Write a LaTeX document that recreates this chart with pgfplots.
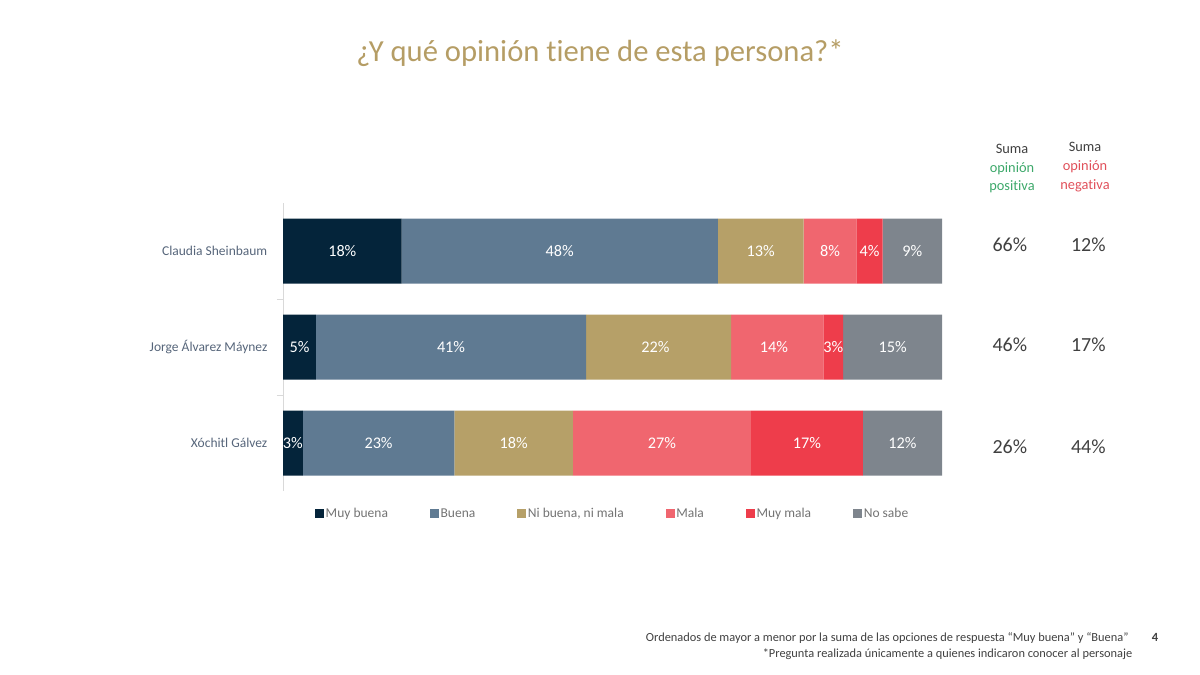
\documentclass[border=0pt]{standalone}
\usepackage{pgfplots}
\pgfplotsset{compat=1.18}
\usepackage{pgfplotstable}
\usepackage{fontspec}
\setmainfont{Carlito}[Ligatures=NoCommon]
\definecolor{cmb}{HTML}{04243A}
\definecolor{cb}{HTML}{5F7A92}
\definecolor{cnb}{HTML}{B6A068}
\definecolor{cm}{HTML}{F0666F}
\definecolor{cmm}{HTML}{EE3D4B}
\definecolor{cns}{HTML}{7E858D}
\definecolor{ctitle}{HTML}{B59D65}
\definecolor{cname}{HTML}{56657A}
\definecolor{cpos}{HTML}{3DA86A}
\definecolor{cneg}{HTML}{E0505A}
\definecolor{ctext}{HTML}{404040}

\pgfplotstableread{
y mb b nb m mm ns
0 18 48 13 8 4 9
1 5 41 22 14 3 15
2 3 23 18 27 17 12
}\datatable

% label positions (segment midpoints) and values
\pgfplotstableread{
x y lab
9 0 18
42 0 48
72.5 0 13
83 0 8
89 0 4
95.5 0 9
2.5 1 5
25.5 1 41
56.5 1 22
74.5 1 14
83.5 1 3
92.5 1 15
1.5 2 3
14.5 2 23
35 2 18
57.5 2 27
79.5 2 17
94 2 12
}\labtable

% suma opinion columns
\pgfplotstableread{
x y lab
110.3 -0.07 66
110.3 0.98 46
110.3 2.04 26
122.2 -0.07 12
122.2 0.98 17
122.2 2.04 44
}\sumtable

\begin{document}
\begin{tikzpicture}[x=1pt,y=1pt]
\path[use as bounding box] (0,0) rectangle (960,539.2);

\node[anchor=base, font=\fontsize{24.5}{29}\selectfont, text=ctitle] at (480,489.6) {¿Y qué opinión tiene de esta persona?*};

\begin{axis}[
  at={(226.4pt,146.4pt)}, anchor=south west,
  scale only axis, width=527.2pt, height=230.4pt,
  xbar stacked, bar width=52pt,
  xmin=0, xmax=100, ymin=-0.5, ymax=2.5,
  y dir=reverse,
  axis x line=none,
  axis y line*=left,
  axis line style={draw=black!15},
  ytick={0,1,2},
  yticklabels={Claudia Sheinbaum, Jorge Álvarez Máynez, Xóchitl Gálvez},
  major tick length=0pt,
  minor ytick={0.5,1.5},
  minor tick length=5pt,
  tick align=outside,
  minor tick style={draw=black!15},
  yticklabel style={font=\fontsize{10.8}{12}\selectfont, text=cname, xshift=-9pt},
  legend columns=6,
  legend style={at={(0.5,-0.045)}, anchor=north, draw=none, fill=none,
    font=\fontsize{10.8}{12}\selectfont, text=black!55,
    nodes={inner sep=1.2pt},
    /tikz/every even column/.append style={column sep=32.5pt}},
  legend image code/.code={\fill[#1] (0pt,-3.6pt) rectangle (7.2pt,3.6pt);},
]
\addplot[fill=cmb, draw=none] table[x=mb, y=y] {\datatable};
\addlegendentry{Muy buena}
\addplot[fill=cb, draw=none] table[x=b, y=y] {\datatable};
\addlegendentry{Buena}
\addplot[fill=cnb, draw=none] table[x=nb, y=y] {\datatable};
\addlegendentry{Ni buena, ni mala}
\addplot[fill=cm, draw=none] table[x=m, y=y] {\datatable};
\addlegendentry{Mala}
\addplot[fill=cmm, draw=none] table[x=mm, y=y] {\datatable};
\addlegendentry{Muy mala}
\addplot[fill=cns, draw=none] table[x=ns, y=y] {\datatable};
\addlegendentry{No sabe}
\end{axis}

\begin{axis}[
  at={(226.4pt,146.4pt)}, anchor=south west,
  scale only axis, width=527.2pt, height=230.4pt,
  xmin=0, xmax=100, ymin=-0.5, ymax=2.5,
  y dir=reverse, hide axis, clip=false,
]
\addplot[draw=none, mark=none, point meta=explicit symbolic,
  nodes near coords={\pgfplotspointmeta\%},
  nodes near coords align=center,
  every node near coord/.append style={anchor=center, text=white, font=\fontsize{13}{15}\selectfont, inner sep=0pt}]
  table[x=x, y=y, meta=lab] {\labtable};
\addplot[draw=none, mark=none, point meta=explicit symbolic,
  nodes near coords={\pgfplotspointmeta\%},
  nodes near coords align=center,
  every node near coord/.append style={anchor=center, text=ctext, font=\fontsize{16}{19}\selectfont, inner sep=0pt}]
  table[x=x, y=y, meta=lab] {\sumtable};
\end{axis}

% Suma headers
\begin{scope}[every node/.style={anchor=base, font=\fontsize{11.5}{13}\selectfont}]
\node[text=ctext] at (809.6,416) {Suma};
\node[text=cpos] at (809.6,400.8) {opinión};
\node[text=cpos] at (809.6,387.2) {positiva};
\node[text=ctext] at (868,417.6) {Suma};
\node[text=cneg] at (868,402.4) {opinión};
\node[text=cneg] at (868,388) {negativa};
\end{scope}

% footer
\node[anchor=base east, font=\fontsize{9.9}{11}\selectfont, text=ctext, inner sep=0pt] at (903,26.4) {Ordenados de mayor a menor por la suma de las opciones de respuesta “Muy buena” y “Buena”};
\node[anchor=base east, font=\fontsize{9.9}{11}\selectfont, text=ctext, inner sep=0pt] at (906,13.6) {*Pregunta realizada únicamente a quienes indicaron conocer al personaje};
\node[anchor=base, font=\bfseries\fontsize{10}{12}\selectfont, text=ctext, inner sep=0pt] at (924,26.4) {4};
\end{tikzpicture}
\end{document}
